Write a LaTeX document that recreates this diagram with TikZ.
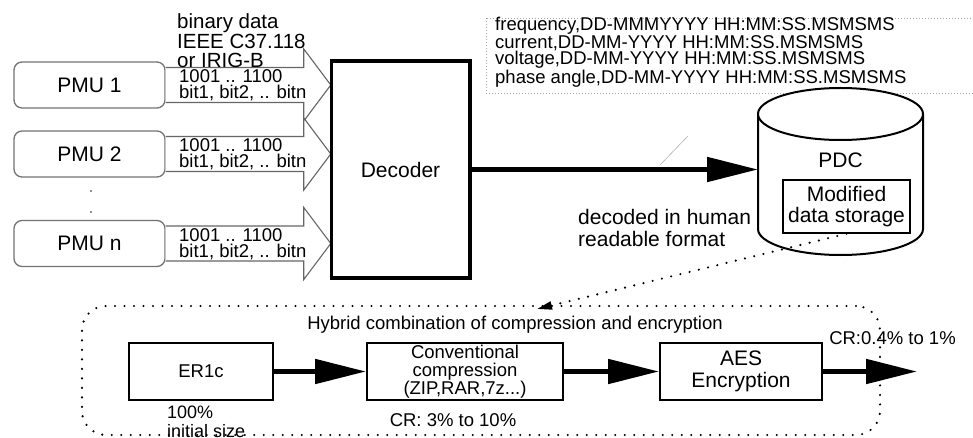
\documentclass[tikz,border=0pt]{standalone}
\usepackage{fontspec}
\setmainfont{Liberation Sans}
\usetikzlibrary{arrows.meta}

\begin{document}
\begin{tikzpicture}[x=1pt,y=1pt,
	big/.style={font=\fontsize{21pt}{21.5pt}\selectfont},
	small/.style={font=\fontsize{18.5pt}{16pt}\selectfont},
	pmubox/.style={draw=black!55, line width=1.3pt, rounded corners=8pt, minimum width=151pt, minimum height=46pt, big},
	blk/.style={draw=black!60, line width=1.1pt, fill=white},
	stage/.style={draw, line width=2pt, minimum height=57pt},
	flow/.style={line width=5pt, -{Triangle[length=51pt,width=24pt]}},
	dots/.style={dash pattern=on 0pt off 9.5pt, line cap=round, line width=2.4pt}]
		\useasboundingbox (0,0) rectangle (973,-438);
		% data sources
		\node[pmubox] (pmu1) at (89.5,-85) {PMU 1};
		\node[pmubox] (pmu2) at (89.5,-154) {PMU 2};
		\node[pmubox] (pmun) at (89.5,-243.5) {PMU n};
		\fill[black!60] (91,-191) circle (1.2pt);
		\fill[black!60] (91,-212) circle (1.2pt);
		\node[draw, line width=2.5pt, minimum width=137pt, minimum height=215pt, big] (dec) at (400.5,-169.5) {Decoder};
		% block arrows into the decoder
		\draw[blk] ([yshift=17.5pt]pmu1.east) -- ([xshift=-27pt,yshift=17.5pt]pmu1 -| dec.west) -- ++(0,18.5) -- (pmu1 -| dec.west) -- ([xshift=-27pt,yshift=-36pt]pmu1 -| dec.west) -- ++(0,18.5) -- ([yshift=-17.5pt]pmu1.east);
		\draw[blk] ([yshift=17.5pt]pmu2.east) -- ([xshift=-27pt,yshift=17.5pt]pmu2 -| dec.west) -- ++(0,18.5) -- (pmu2 -| dec.west) -- ([xshift=-27pt,yshift=-36pt]pmu2 -| dec.west) -- ++(0,18.5) -- ([yshift=-17.5pt]pmu2.east);
		\draw[blk] ([yshift=17.5pt]pmun.east) -- ([xshift=-27pt,yshift=17.5pt]pmun -| dec.west) -- ++(0,18.5) -- (pmun -| dec.west) -- ([xshift=-27pt,yshift=-36pt]pmun -| dec.west) -- ++(0,18.5) -- ([yshift=-17.5pt]pmun.east);
		\draw[line width=2.5pt] (dec.north west) rectangle (dec.south east);
		\node[align=left, anchor=west, font=\fontsize{20.5pt}{19.5pt}\selectfont, inner sep=0pt] (bintxt) at (177,-41) {binary data\\IEEE C37.118\\or IRIG-B};
		\node[align=left, anchor=west, small, inner sep=0pt] (bits1) at (179,-85) {1001 .. 1100\\bit1, bit2, .. bitn};
		\node[align=left, anchor=west, small, inner sep=0pt] (bits2) at (179,-154) {1001 .. 1100\\bit1, bit2, .. bitn};
		\node[align=left, anchor=west, small, inner sep=0pt] (bitsn) at (179,-244) {1001 .. 1100\\bit1, bit2, .. bitn};
		% decoded records
		\draw[black!35, dash pattern=on 1pt off 2pt, line width=0.8pt] (486,-18) rectangle (985,-93);
		\node[align=left, anchor=west, font=\fontsize{18.5pt}{13.5pt}\selectfont, inner sep=0pt] (rec) at (495,-52) {frequency,DD-MMMYYYY HH:MM:SS.MSMSMS\\current,DD-MM-YYYY HH:MM:SS.MSMSMS\\voltage,DD-MM-YYYY HH:MM:SS.MSMSMS\\phase angle,DD-MM-YYYY HH:MM:SS.MSMSMS};
		% PDC
		\draw[line width=2pt, fill=white] (758,-114) -- (758,-229) arc[start angle=180, end angle=360, x radius=82.5, y radius=26] -- (923,-114);
		\draw[line width=2pt, fill=white] (840.5,-114) ellipse [x radius=82.5, y radius=26];
		\node[big] (pdc) at (840.5,-160) {PDC};
		\node[draw, line width=1.5pt, minimum width=127pt, minimum height=53pt, align=center, inner sep=2pt, big] (store) at (846.5,-206.5) {Modified\\data storage};
		\coordinate (pdcin) at (758,-169.5);
		\draw[flow] (dec.east) -- (pdcin);
		\draw[black!30, line width=0.6pt] (660,-165) -- (688,-136);
		\node[align=left, anchor=west, big, inner sep=0pt] (human) at (578,-228) {decoded in human\\readable format};
		% compression and encryption
		\node[draw, dots, rounded corners=24pt, minimum width=798pt, minimum height=129pt] (hyb) at (481,-370.5) {};
		\coordinate (hybin) at (537,-309);
		\draw[dots, -{Triangle[length=15pt,width=8pt]}] (store.south) -- (hybin);
		\node[small] (hybtxt) at (515,-325) {Hybrid combination of compression and encryption};
		\node[stage, minimum width=144pt, small] (er) at (201,-371.5) {ER1c};
		\node[stage, minimum width=196pt, align=center, inner sep=1pt, font=\fontsize{18.5pt}{18pt}\selectfont] (conv) at (465,-371.5) {Conventional\\compression\\(ZIP,RAR,7z...)};
		\node[stage, minimum width=162pt, align=center, big] (aes) at (741,-371.5) {AES\\Encryption};
		\coordinate (out) at (917,-371.5);
		\draw[flow] (er) -- (conv);
		\draw[flow] (conv) -- (aes);
		\draw[flow] (aes) -- (out);
		\node[align=left, anchor=west, font=\fontsize{18pt}{19pt}\selectfont, inner sep=0pt] (init) at (167,-422) {100\%\\initial size};
		\node[small] (cr1) at (453,-420) {CR: 3\% to 10\%};
		\node[small] (cr2) at (892.5,-338) {CR:0.4\% to 1\%};
		\end{tikzpicture}
\end{document}
